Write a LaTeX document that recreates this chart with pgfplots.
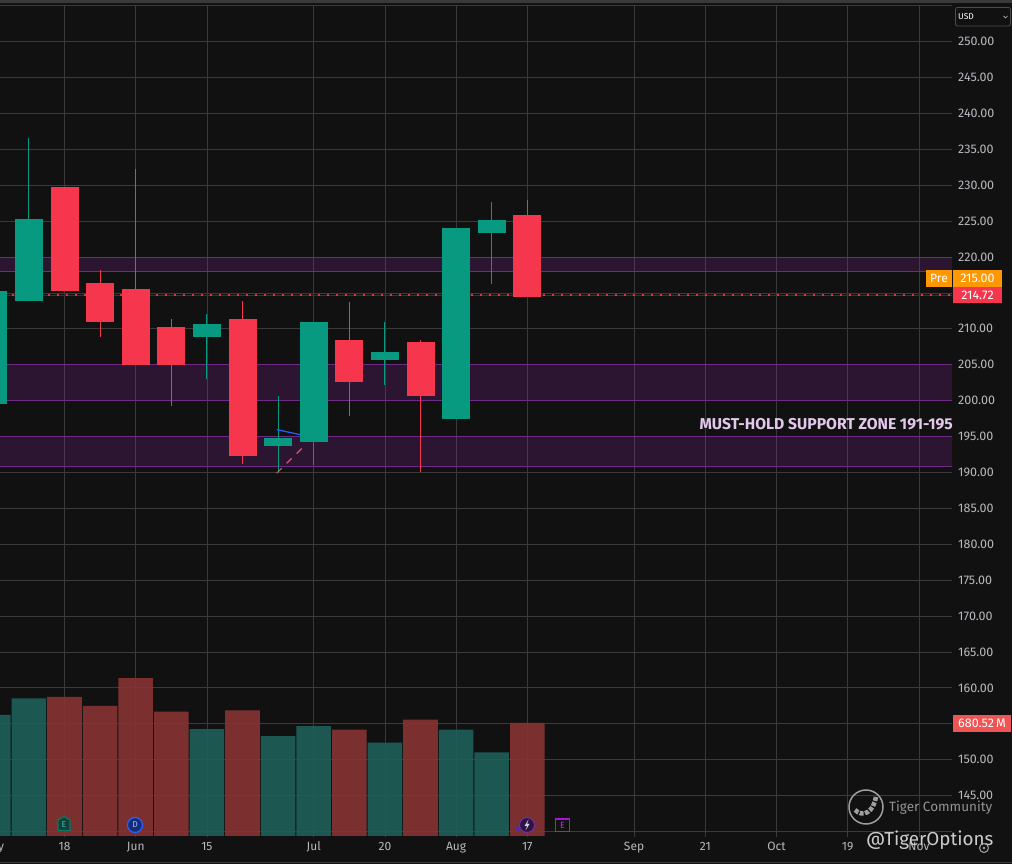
\documentclass[border=0pt]{standalone}
\usepackage{pgfplots}
\usepackage{pgfplotstable}
\usepackage{fontspec}
\setmainfont{Fira Sans}
\pgfplotsset{compat=1.18}
\definecolor{bg}{HTML}{111111}
\definecolor{gridc}{HTML}{3A3A3A}
\definecolor{lab}{HTML}{B7B9BE}
\definecolor{upc}{HTML}{089981}
\definecolor{dnc}{HTML}{F5364C}
\definecolor{volup}{HTML}{1E5F59}
\definecolor{voldn}{HTML}{873333}
\definecolor{band}{HTML}{9C27B0}
\definecolor{bandl}{HTML}{6E2A85}
\definecolor{orangec}{HTML}{FF9800}
\definecolor{lav}{HTML}{E3C8EC}
\pgfplotstableread{
x open high low close
-1 199.5 216.0 199.0 215.2
0 213.9 236.6 213.9 225.35
5 208.8 212.0 203.0 210.7
7 193.75 200.7 190.0 194.85
8 194.3 210.9 191.0 210.9
10 205.7 210.9 202.2 206.8
12 197.5 224.0 197.5 224.0
13 223.3 227.6 216.2 225.1
}\upcandles
\pgfplotstableread{
x open high low close
1 229.8 229.8 215.2 215.2
2 216.4 218.25 208.8 211.0
3 215.6 232.3 205.0 205.0
4 210.2 211.3 199.3 205.0
6 211.4 213.9 191.2 192.35
9 208.5 213.8 197.9 202.65
11 208.1 208.5 190.0 200.6
14 225.9 227.9 214.5 214.5
}\dncandles
\pgfplotstableread{
x vol
-1 729
0 828
5 644
7 602
8 662
10 562
12 640
13 504
}\upvol
\pgfplotstableread{
x vol
1 837
2 783
3 951
4 749
6 757
9 640
11 700
14 680.52
}\dnvol
\pgfplotsset{
  wick/.style={only marks, mark=*, mark size=0pt, mark options={draw=none, fill=none}, error bars/.cd, y dir=both, y explicit, error mark=none,
    error bar style={line width=1pt, color=#1}},
  body/.style={only marks, mark=*, mark size=0pt, mark options={draw=none, fill=none}, error bars/.cd, y dir=both, y explicit, error mark=none,
    error bar style={line width=28pt, color=#1}},
  zone/.style={fill=band, fill opacity=.2, draw=none},
  zoneline/.style={bandl, line width=1.3pt},
}
\newcommand{\candles}[2]{%
  \addplot[wick=#2] table[x=x, y expr=(\thisrow{high}+\thisrow{low})/2,
    y error plus expr=(\thisrow{high}-\thisrow{low})/2,
    y error minus expr=(\thisrow{high}-\thisrow{low})/2] {#1};
  \addplot[body=#2] table[x=x, y expr=(\thisrow{open}+\thisrow{close})/2,
    y error plus expr=abs(\thisrow{close}-\thisrow{open})/2,
    y error minus expr=abs(\thisrow{close}-\thisrow{open})/2] {#1};
}
\newcommand{\zone}[2]{%
  \addplot[zone] coordinates {(-2,#1) (27,#1) (27,#2) (-2,#2)} -- cycle;
  \addplot[zoneline] coordinates {(-2,#1) (27,#1)};
  \addplot[zoneline] coordinates {(-2,#2) (27,#2)};
}
\begin{document}
\begin{tikzpicture}
\fill[bg] (0,0) rectangle (1012pt,864pt);
\path[use as bounding box] (0,0) rectangle (1012pt,864pt);
\fill[gridc] (0,861pt) rectangle (1012pt,864pt);
\draw[gridc,line width=1pt] (0,1.5pt) -- (1012pt,1.5pt);
\begin{axis}[
  at={(-20pt,27.4pt)}, anchor=south west, scale only axis,
  width=972pt, height=832pt,
  xmin=-1.3736, xmax=25.93, ymin=139.29, ymax=255.15,
  axis line style={draw=none},
  major tick length=0pt,
  tick style={draw=none},
  grid=major, grid style={gridc, line width=.8pt},
  xtick={-1,1,3,5,8,10,12,14,17,19,21,23,25},
  xticklabels={May,18,Jun,15,Jul,20,Aug,17,Sep,21,Oct,19,Nov},
  x tick label style={font=\fontsize{12}{14}\selectfont, text=lab, yshift=-5pt, anchor=north, inner sep=0pt, text height=9pt, text depth=0pt},
  ytick={140,145,150,155,160,165,170,175,180,185,190,195,200,205,210,215,220,225,230,235,240,245,250,255},
  yticklabels={,145.00,150.00,,160.00,165.00,170.00,175.00,180.00,185.00,190.00,195.00,200.00,205.00,210.00,,220.00,225.00,230.00,235.00,240.00,245.00,250.00,},
  yticklabel pos=right,
  y tick label style={font=\fontsize{12.5}{14}\selectfont, text=lab, anchor=west, xshift=6pt, inner sep=0pt},
  clip=true,
]
\zone{218}{219.95}
\zone{200}{205}
\zone{190.8}{195}
\addplot[dnc!45!black, line width=.6pt] coordinates {(-2,214.72) (27,214.72)};
\addplot[dnc!90!black, line width=2pt, dash pattern=on 2pt off 7pt] coordinates {(-2,214.72) (27,214.72)};
\candles{\upcandles}{upc}
\candles{\dncandles}{dnc}
\addplot[color={rgb,255:red,41;green,98;blue,255}, line width=1.2pt] coordinates {(6.96,195.97) (7.61,195.27)};
\addplot[color={rgb,255:red,226;green,82;blue,110}, line width=1.2pt, dash pattern=on 7pt off 7pt] coordinates {(6.96,189.9) (7.78,193.9)};
\end{axis}
\begin{axis}[
  at={(-20pt,28pt)}, anchor=south west, scale only axis,
  width=972pt, height=832pt,
  xmin=-1.3736, xmax=25.93, ymin=0, ymax=5010,
  hide axis,
]
\addplot[ybar, bar width=.97, bar shift=0pt, fill=volup, fill opacity=.9, draw=none] table[x=x,y=vol] {\upvol};
\addplot[ybar, bar width=.97, bar shift=0pt, fill=voldn, fill opacity=.9, draw=none] table[x=x,y=vol] {\dnvol};
\end{axis}
\begin{scope}[x=1pt,y=-1pt,yshift=864pt]
  % zone label
  \node[anchor=east, inner sep=0pt, text=lav, font=\fontsize{15.7}{17}\selectfont\bfseries] at (953,424) {MUST-HOLD SUPPORT ZONE 191-195};
  % price badges
  \fill[orangec] (926,270) rectangle (952,287);
  \fill[orangec] (953,270) rectangle (1002,287);
  \fill[dnc] (953,287) rectangle (1002,303);
  \node[text=white, inner sep=0pt, font=\fontsize{12}{14}\selectfont] at (939,278.5) {Pre};
  \node[text=white, inner sep=0pt, font=\fontsize{12.5}{14}\selectfont] at (977.5,278.5) {215.00};
  \node[text=white, inner sep=0pt, font=\fontsize{12.5}{14}\selectfont] at (977.5,295.5) {214.72};
  \fill[color={rgb,255:red,240;green,84;blue,84}] (953,715) rectangle (1011,732);
  \node[text=white, inner sep=0pt, font=\fontsize{12.5}{14}\selectfont] at (982,723.5) {680.52\,M};
  % currency box
  \draw[color=gray!60!black, rounded corners=2pt, line width=.8pt, fill=bg] (955.5,7.5) rectangle (1010.5,26);
  \node[anchor=west, text=white, inner sep=0pt, font=\fontsize{8.5}{10}\selectfont] at (958,17) {USD};
  \draw[lab, line width=.7pt] (1003.5,16) -- (1005.5,18) -- (1007.5,16);
  % event markers
  \draw[color=upc!80!black, fill=upc!35!bg, line width=1.2pt] (58,830.5) -- (58,820) -- (64,816.5) -- (70,820) -- (70,830.5) -- cycle;
  \node[text=upc!70!white, inner sep=0pt, font=\fontsize{8.5}{10}\selectfont] at (64,825) {E};
  \draw[color={rgb,255:red,41;green,98;blue,255}, fill={rgb,255:red,20;green,45;blue,120}, line width=1.2pt] (135,825) circle (7.5);
  \node[text=white!70!blue, inner sep=0pt, font=\fontsize{8.5}{10}\selectfont] at (135,825) {D};
  \fill[color={rgb,255:red,80;green,40;blue,170}] (515,828.5) -- (518.5,825) -- (522,828.5) -- (518.5,832) -- cycle;
  \draw[color={rgb,255:red,110;green,50;blue,150}, fill={rgb,255:red,45;green,20;blue,70}, line width=1.1pt] (527,825) circle (7.5);
  \fill[color=white!80!violet] (528.5,819.5) -- (524.5,826) -- (527,826) -- (525.5,830.5) -- (529.5,824) -- (527,824) -- cycle;
  \draw[color={rgb,255:red,170;green,20;blue,215}, line width=1.3pt] (555.5,819) rectangle (569.5,831.5);
  \node[text={rgb,255:red,200;green,40;blue,240}, inner sep=0pt, font=\fontsize{9}{10}\selectfont] at (562.5,825) {E};
  % watermark
  \draw[color=gray!75, line width=1.5pt] (866,807) circle (17);
  \draw[color=gray!75, line width=4.5pt, dash pattern=on 4pt off 1.5pt] (855,810) .. controls (863,818) and (874,812) .. (876,796);
  \node[anchor=west, inner sep=0pt, text=gray!85, font=\fontsize{13.5}{15}\selectfont] at (889,807.5) {Tiger Community};
  \node[anchor=west, inner sep=0pt, text=white!80!black, font=\fontsize{18.8}{22}\selectfont] at (866,840.5) {@TigerOptions};
  \draw[color=gray!70, line width=1pt] (984,848) circle (4.5);
  \fill[color=gray!70] (984,848) circle (1.3);
\end{scope}
\end{tikzpicture}
\end{document}
